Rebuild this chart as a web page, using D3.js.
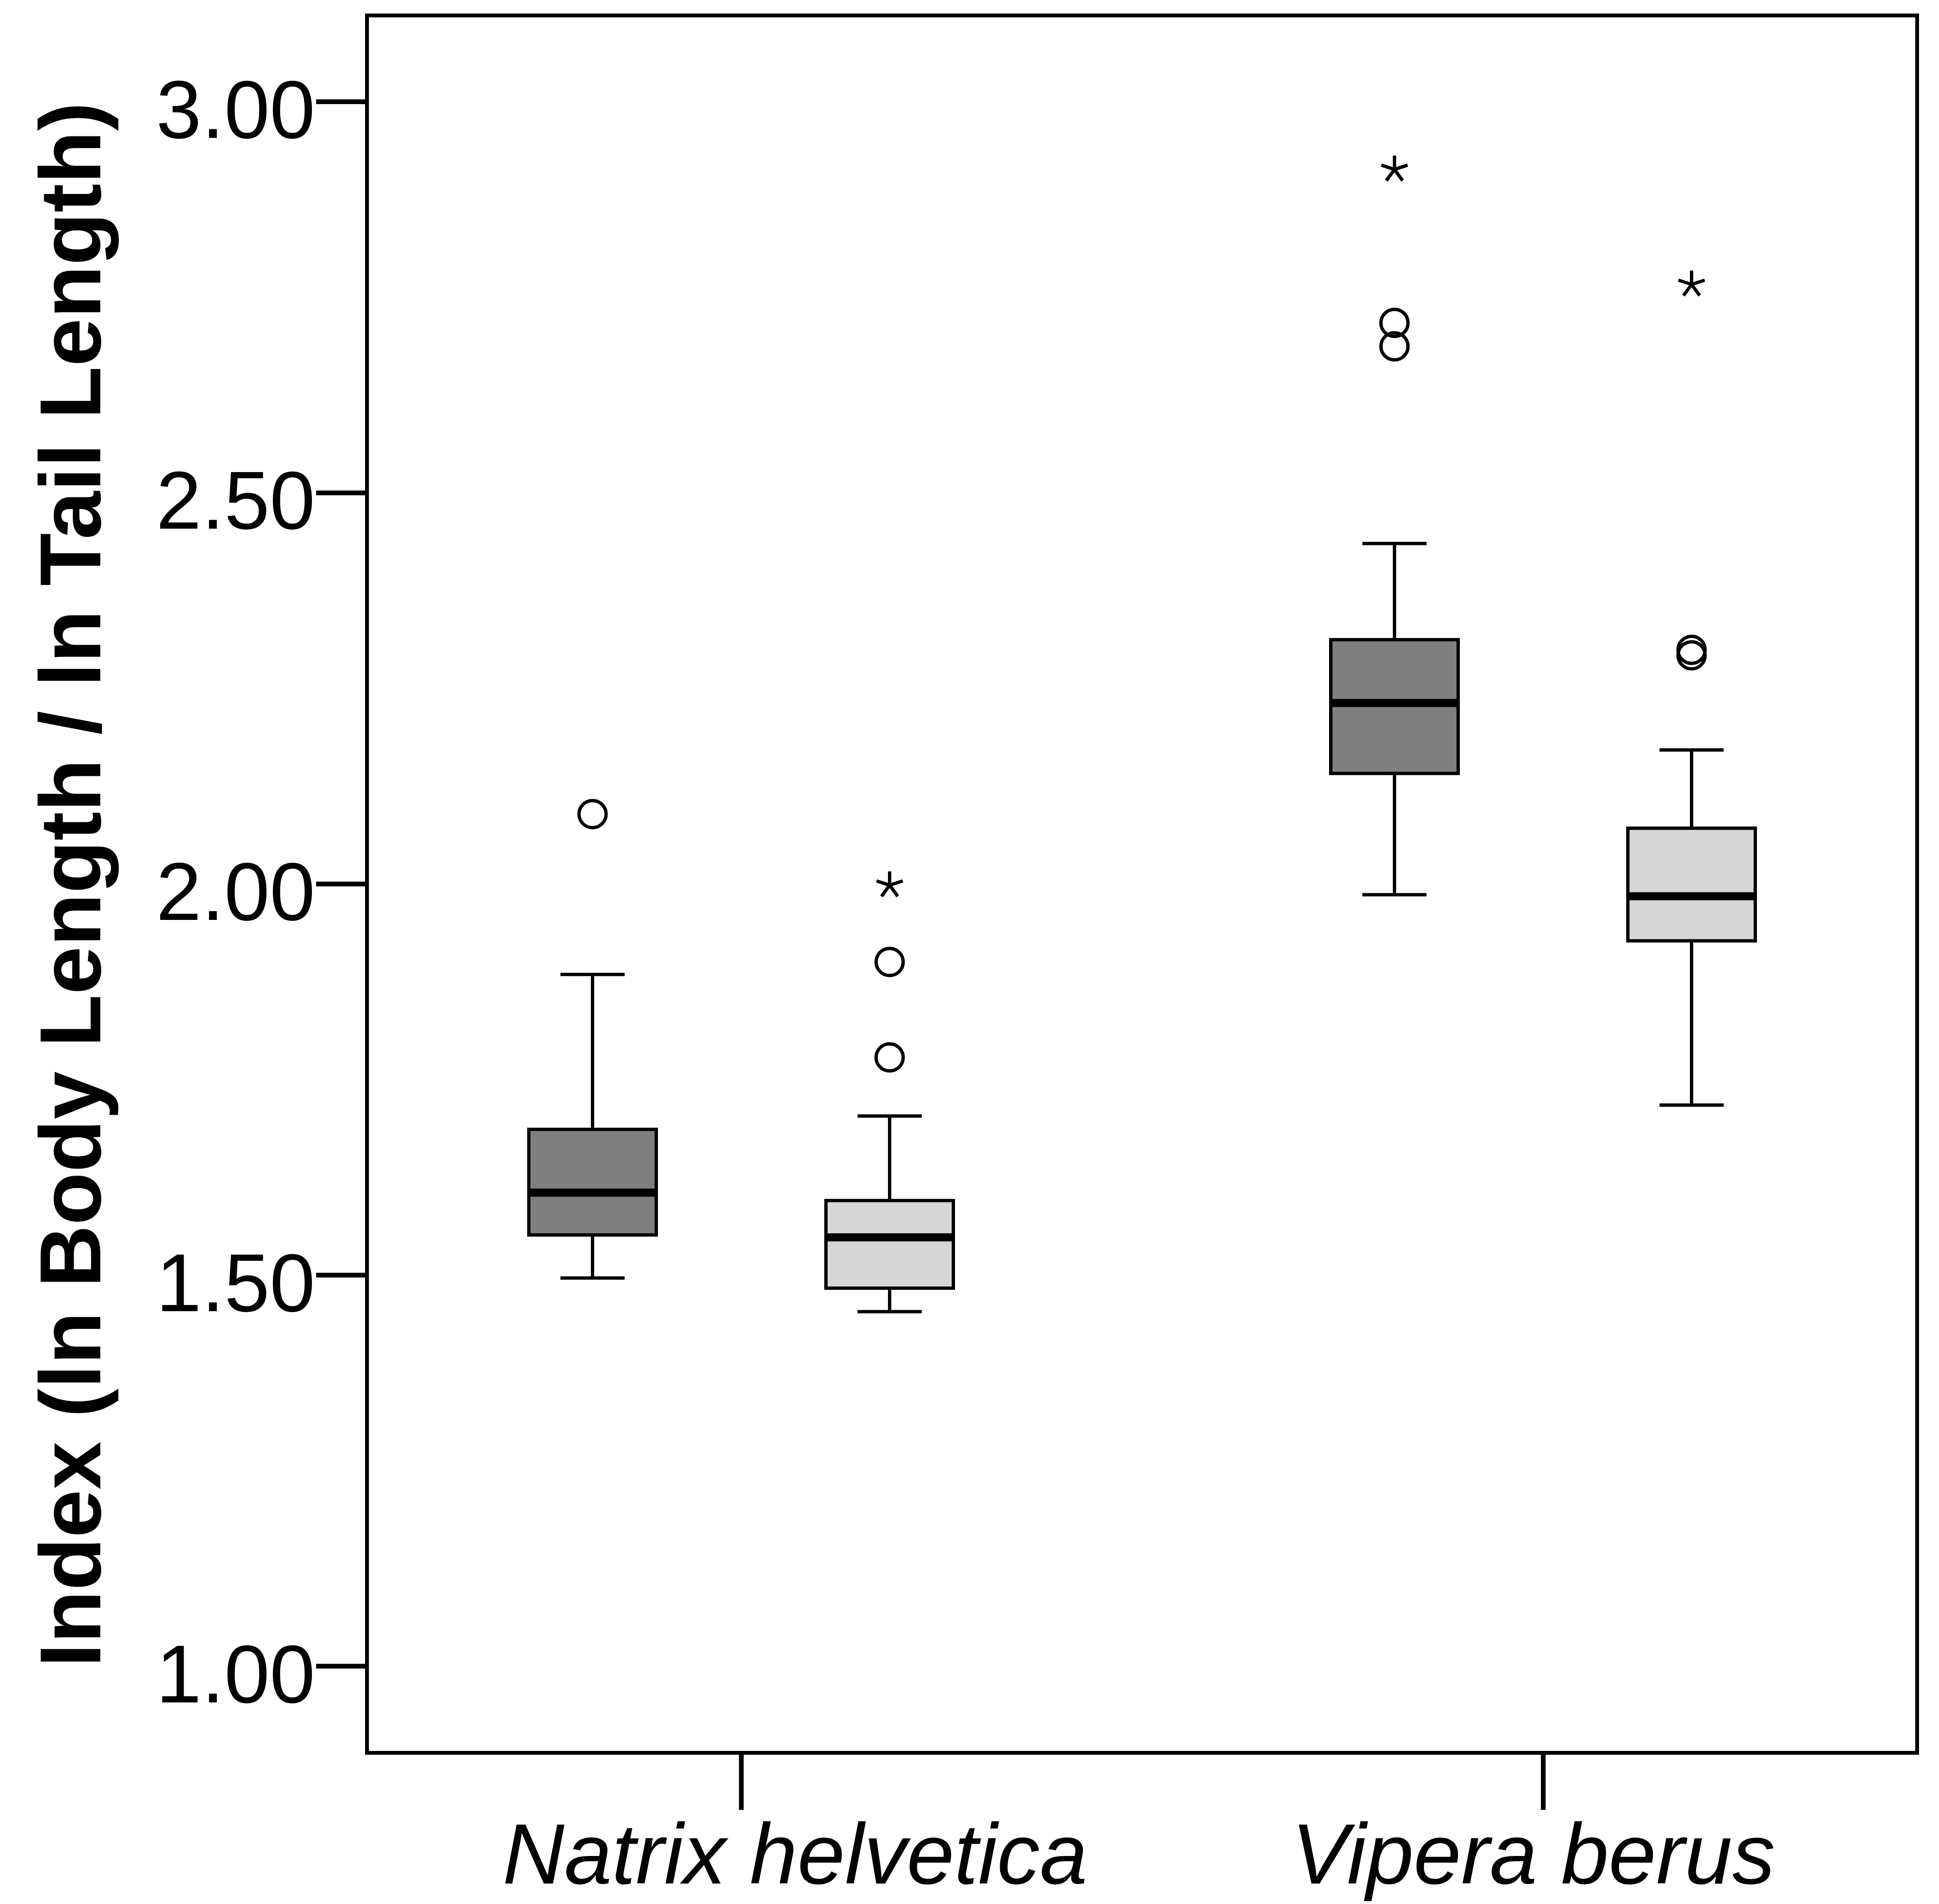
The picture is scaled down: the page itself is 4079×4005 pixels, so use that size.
<!DOCTYPE html>
<html><head><meta charset="utf-8">
<script src="https://cdn.jsdelivr.net/npm/d3@7"></script>
<style>html,body{margin:0;padding:0;background:#fff;} svg{display:block;}</style>
</head><body>
<svg id="chart" width="4079" height="4005"></svg>
<script>
// ---- data ----
const species = ["Natrix helvetica", "Vipera berus"];
const subgroups = ["Group 1", "Group 2"];
const boxSpecies  = ["Natrix helvetica", "Natrix helvetica", "Vipera berus", "Vipera berus"];
const boxSubgroup = ["Group 1", "Group 2", "Group 1", "Group 2"];
const whiskerLow  = [1.496, 1.453, 1.986, 1.717];
const q1          = [1.551, 1.483, 2.141, 1.927];
const median      = [1.605, 1.548, 2.231, 1.984];
const q3          = [1.686, 1.595, 2.312, 2.071];
const whiskerHigh = [1.884, 1.703, 2.435, 2.171];
const outliers    = [[2.089], [1.900, 1.778], [2.717, 2.687], [2.299, 2.292]];
const extremes    = [[], [2.000], [2.915], [2.768]];
const yTicks = [1.00, 1.50, 2.00, 2.50, 3.00];
const yDomain = [0.889, 3.110];
const yTitle = "Index (ln Body Length / ln Tail Length)";

(function () {
// ---- layout / style ----
const FONT = "'Liberation Sans', Arial, Helvetica, sans-serif";
const pLeft = 772, pRight = 4033, pTop = 32.5, pBottom = 3687;
const boxW = 268, capW = 135;
const fills = {"Group 1": "#7f7f7f", "Group 2": "#d6d6d6"};
const labelShift = {"Natrix helvetica": 113, "Vipera berus": -21};

const svg = d3.select("#chart");
svg.append("rect").attr("width", 4079).attr("height", 4005).attr("fill", "#fff");

const y = d3.scaleLinear().domain(yDomain).range([pBottom, pTop]);
const x = d3.scalePoint().domain(species).range([pLeft, pRight]).padding(0.4665);
const xSub = d3.scalePoint().domain(subgroups).range([-312.5, 312.5]);

const boxes = boxSpecies.map((s, i) => ({
  cx: x(s) + xSub(boxSubgroup[i]), sub: boxSubgroup[i],
  lo: whiskerLow[i], q1: q1[i], med: median[i], q3: q3[i], hi: whiskerHigh[i],
  out: outliers[i], ext: extremes[i]
}));

// y axis
const yAxis = d3.axisLeft(y).tickValues(yTicks).tickFormat(d3.format(".2f"))
  .tickSize(107).tickPadding(2);
const gy = svg.append("g").attr("transform", `translate(${pLeft},0)`).call(yAxis);
gy.select(".domain").remove();
gy.selectAll(".tick line").attr("stroke", "#000").attr("stroke-width", 10);
gy.selectAll(".tick text").attr("font-family", FONT).attr("font-size", 172)
  .attr("fill", "#000").attr("dy", "0.44em");

// x axis
const xAxis = d3.axisBottom(x).tickSize(120).tickPadding(0);
const gx = svg.append("g").attr("transform", `translate(0,${pBottom})`).call(xAxis);
gx.select(".domain").remove();
gx.selectAll(".tick line").attr("stroke", "#000").attr("stroke-width", 10);
gx.selectAll(".tick text").attr("font-family", FONT).attr("font-size", 180)
  .attr("font-style", "italic").attr("fill", "#000")
  .attr("y", 3962 - pBottom).attr("dy", 0)
  .attr("dx", d => labelShift[d]);

// frame
svg.append("rect").attr("x", pLeft).attr("y", pTop)
  .attr("width", pRight - pLeft).attr("height", pBottom - pTop)
  .attr("fill", "none").attr("stroke", "#000").attr("stroke-width", 8);

// y title
svg.append("text")
  .attr("transform", `translate(211,1861) rotate(-90)`)
  .attr("text-anchor", "middle").attr("font-family", FONT)
  .attr("font-weight", "bold").attr("font-size", 182).attr("fill", "#000")
  .text(yTitle);

// boxes
const g = svg.append("g");
const bx = g.selectAll(".box").data(boxes).enter().append("g");

bx.append("line").attr("x1", d => d.cx).attr("x2", d => d.cx)
  .attr("y1", d => y(d.lo)).attr("y2", d => y(d.q1))
  .attr("stroke", "#000").attr("stroke-width", 7);
bx.append("line").attr("x1", d => d.cx).attr("x2", d => d.cx)
  .attr("y1", d => y(d.q3)).attr("y2", d => y(d.hi))
  .attr("stroke", "#000").attr("stroke-width", 7);
bx.append("line").attr("x1", d => d.cx - capW / 2).attr("x2", d => d.cx + capW / 2)
  .attr("y1", d => y(d.lo)).attr("y2", d => y(d.lo))
  .attr("stroke", "#000").attr("stroke-width", 7);
bx.append("line").attr("x1", d => d.cx - capW / 2).attr("x2", d => d.cx + capW / 2)
  .attr("y1", d => y(d.hi)).attr("y2", d => y(d.hi))
  .attr("stroke", "#000").attr("stroke-width", 7);
bx.append("rect").attr("x", d => d.cx - boxW / 2).attr("width", boxW)
  .attr("y", d => y(d.q3)).attr("height", d => y(d.q1) - y(d.q3))
  .attr("fill", d => fills[d.sub]).attr("stroke", "#000").attr("stroke-width", 7);
bx.append("line").attr("x1", d => d.cx - boxW / 2).attr("x2", d => d.cx + boxW / 2)
  .attr("y1", d => y(d.med)).attr("y2", d => y(d.med))
  .attr("stroke", "#000").attr("stroke-width", 17);

const starPath = (() => {
  const p = d3.path(), L = 29;
  for (let k = 0; k < 5; k++) {
    const a = (-90 + 72 * k) * Math.PI / 180;
    p.moveTo(0, 0); p.lineTo(L * Math.cos(a), L * Math.sin(a));
  }
  return p.toString();
})();

bx.each(function(d) {
  const gg = d3.select(this);
  gg.selectAll(".out").data(d.out).enter().append("circle")
    .attr("cx", d.cx).attr("cy", v => y(v)).attr("r", 28.5)
    .attr("fill", "none").attr("stroke", "#000").attr("stroke-width", 7);
  gg.selectAll(".ext").data(d.ext).enter().append("path")
    .attr("d", starPath)
    .attr("transform", v => `translate(${d.cx},${y(v) + 3})`)
    .attr("fill", "none").attr("stroke", "#000").attr("stroke-width", 7);
});
})();
</script>
</body></html>
